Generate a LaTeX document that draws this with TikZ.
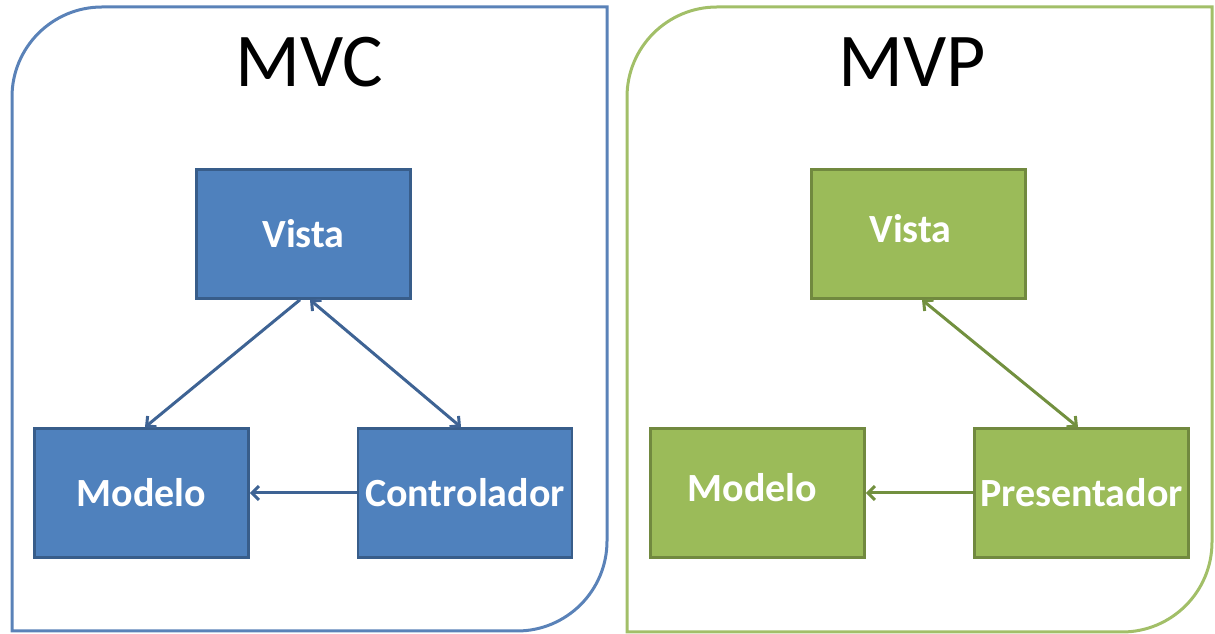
\documentclass[tikz,border=0pt]{standalone}
\usepackage{fontspec}
\setmainfont{Carlito}
\usetikzlibrary{arrows.meta}

\definecolor{bluefill}{HTML}{4F81BD}
\definecolor{blueline}{HTML}{385D8A}
\definecolor{blueframe}{HTML}{5A82B8}
\definecolor{bluearrow}{HTML}{3E6394}
\definecolor{greenfill}{HTML}{9BBB59}
\definecolor{greenline}{HTML}{71893F}
\definecolor{greenframe}{HTML}{A2BF68}
\definecolor{greenarrow}{HTML}{72903F}

\begin{document}
\begin{tikzpicture}[x=1pt,y=1pt,
  box/.style={rectangle, draw, line width=2.6pt, inner sep=0pt,
    minimum width=214pt, minimum height=129pt, text=white,
    font=\fontsize{40}{48}\selectfont\bfseries},
  bluebox/.style={box, fill=bluefill, draw=blueline},
  greenbox/.style={box, fill=greenfill, draw=greenline},
  title/.style={anchor=base, inner sep=0pt, text=black,
    font=\fontsize{76}{90}\selectfont},
  frame/.style={line width=3pt},
  tip/.style={},
  link/.style={line width=3pt,
    arrows={-Straight Barb[length=7pt,width=14pt,line width=3pt]}},
  dlink/.style={line width=3pt,
    arrows={Straight Barb[length=7pt,width=14pt,line width=3pt]-Straight Barb[length=7pt,width=14pt,line width=3pt]}}
]
\useasboundingbox (0,0) rectangle (1215,634);

% outer frames, rounded at top-left and bottom-right only
\draw[frame, draw=blueframe]
  (12,3) -- (12,537) arc[start angle=180,end angle=90,radius=90]
  -- (607,627) -- (607,93) arc[start angle=0,end angle=-90,radius=90]
  -- cycle;
\draw[frame, draw=greenframe]
  (627,2) -- (627,537) arc[start angle=180,end angle=90,radius=90]
  -- (1212,627) -- (1212,92) arc[start angle=0,end angle=-90,radius=90]
  -- cycle;

% MVC
\node[title] (tmvc) at (309,547) {MVC};
\node[bluebox] (v1) at (303.5,400) {Vista};
\node[bluebox] (m1) at (141.5,141) {Modelo};
\node[bluebox] (c1) at (465,141) {Controlador};

\draw[link, draw=bluearrow] ([xshift=-3.5pt]v1.south) -- ([xshift=3.5pt]m1.north);
\draw[dlink, draw=bluearrow] ([xshift=6.5pt]v1.south) -- ([xshift=-4pt]c1.north);
\draw[link, draw=bluearrow] (c1.west) -- (m1.east);

% MVP
\node[title] (tmvp) at (912,547) {MVP};
\node[greenbox, text depth=12pt] (v2) at (918.5,400) {Vista\hspace*{16pt}};
\node[greenbox, text depth=12pt] (m2) at (757.5,141) {Modelo\hspace*{10pt}};
\node[greenbox] (p2) at (1081.5,141) {Presentador};

\draw[dlink, draw=greenarrow] ([xshift=3.5pt]v2.south) -- ([xshift=-3.5pt]p2.north);
\draw[link, draw=greenarrow] (p2.west) -- (m2.east);
\end{tikzpicture}
\end{document}
